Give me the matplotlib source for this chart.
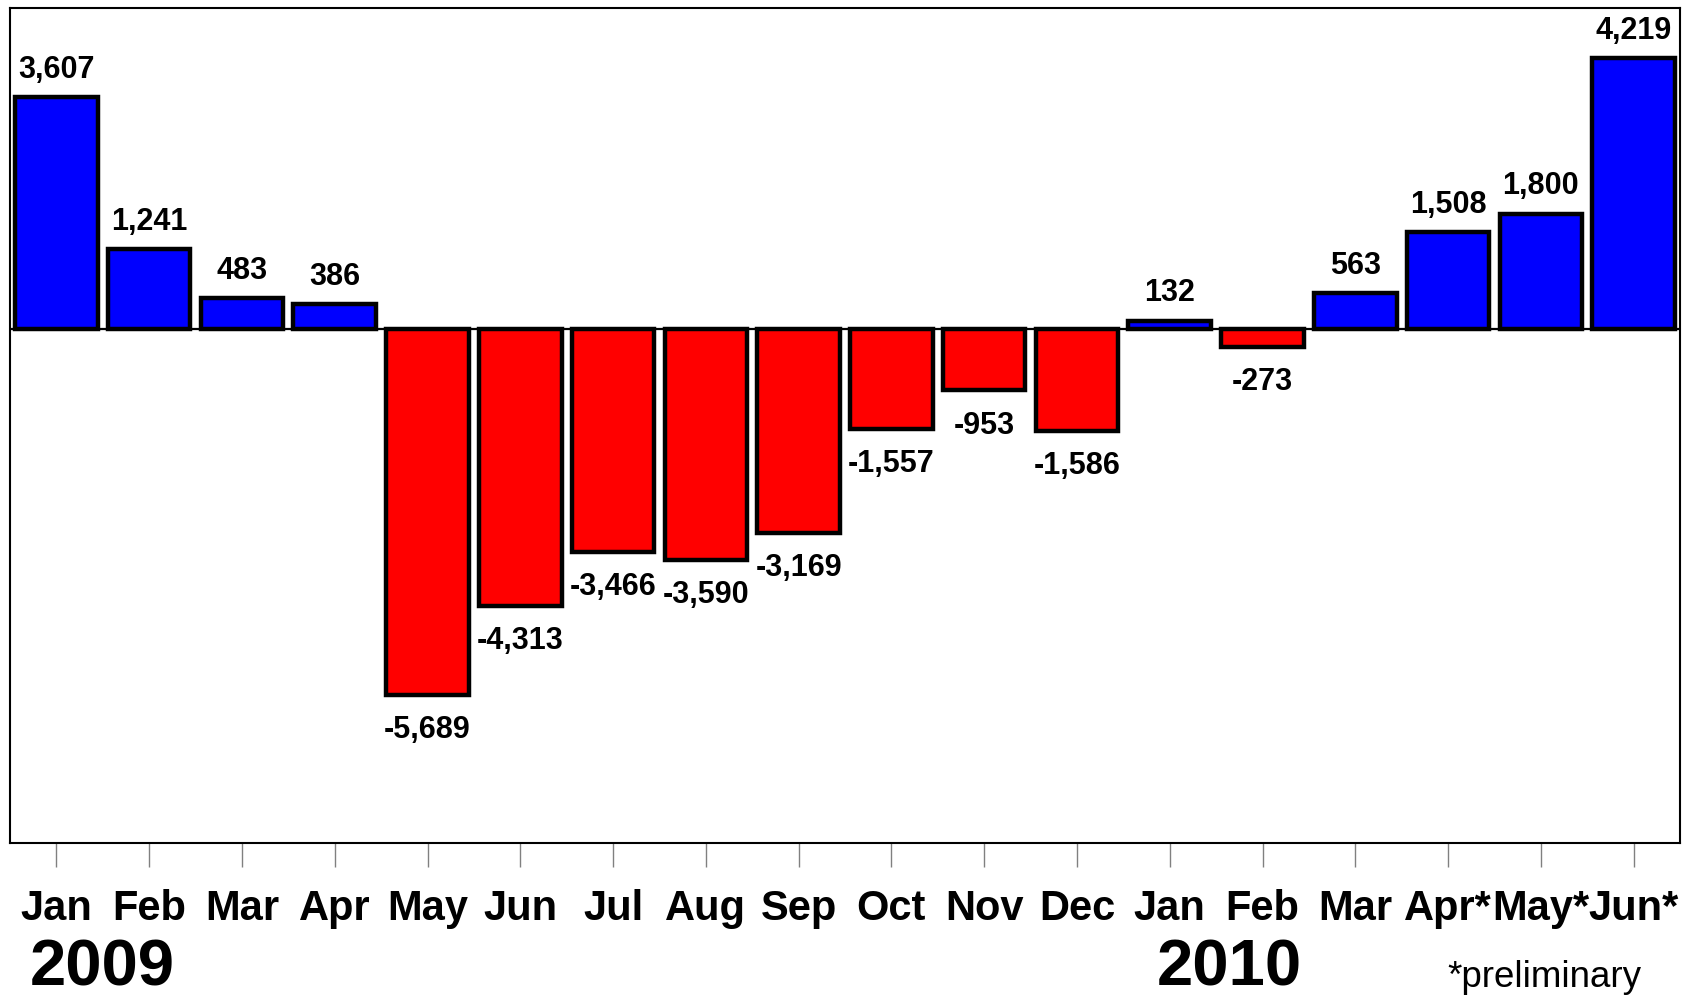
import matplotlib
matplotlib.use('Agg')
import matplotlib.pyplot as plt

plt.rcParams['font.family'] = ['Liberation Sans', 'DejaVu Sans']

# data: monthly change
months = ['Jan', 'Feb', 'Mar', 'Apr', 'May', 'Jun', 'Jul', 'Aug', 'Sep', 'Oct', 'Nov', 'Dec',
          'Jan', 'Feb', 'Mar', 'Apr*', 'May*', 'Jun*']
values = [3607, 1241, 483, 386, -5689, -4313, -3466, -3590, -3169, -1557, -953, -1586,
          132, -273, 563, 1508, 1800, 4219]
years = ['2009', '2010']

colors = ['#0000FF' if v >= 0 else '#FF0000' for v in values]
x = range(len(values))

fig = plt.figure(figsize=(16.9, 9.97), dpi=100)
ax = fig.add_axes([10 / 1690, 1 - 843 / 997, 1670 / 1690, (843 - 8) / 997])

ax.bar(x, values, width=0.89, color=colors, edgecolor='black', linewidth=3.2, zorder=2)
ax.axhline(0, color='black', linewidth=1.6, zorder=1)

ax.set_xlim(-0.5, 17.5)
ax.set_ylim(-8000, 5000)

# value labels
for i, v in enumerate(values):
    if v >= 0:
        ax.annotate(f'{v:,}', (i, v), xytext=(0, 14), textcoords='offset points',
                    ha='center', va='baseline', fontsize=22, fontweight='bold')
    else:
        ax.annotate(f'{v:,}', (i, v), xytext=(0, -14.5), textcoords='offset points',
                    ha='center', va='top', fontsize=22, fontweight='bold')

ax.set_xticks(list(x))
ax.set_xticklabels(months, fontsize=30, fontweight='bold')
ax.tick_params(axis='x', direction='out', length=17, width=1, color='#808080', pad=16)
ax.set_yticks([])

for s in ax.spines.values():
    s.set_linewidth(1.5)
    s.set_color('black')

# year labels and footnote
fig.text(102 / 1690, 1 - 985 / 997, years[0], ha='center', va='baseline',
         fontsize=47, fontweight='bold')
fig.text(1229 / 1690, 1 - 985 / 997, years[1], ha='center', va='baseline',
         fontsize=47, fontweight='bold')
fig.text(1447 / 1690, 1 - 987 / 997, '*preliminary', ha='left', va='baseline', fontsize=26.5)

fig.savefig('out.png', dpi=100)
